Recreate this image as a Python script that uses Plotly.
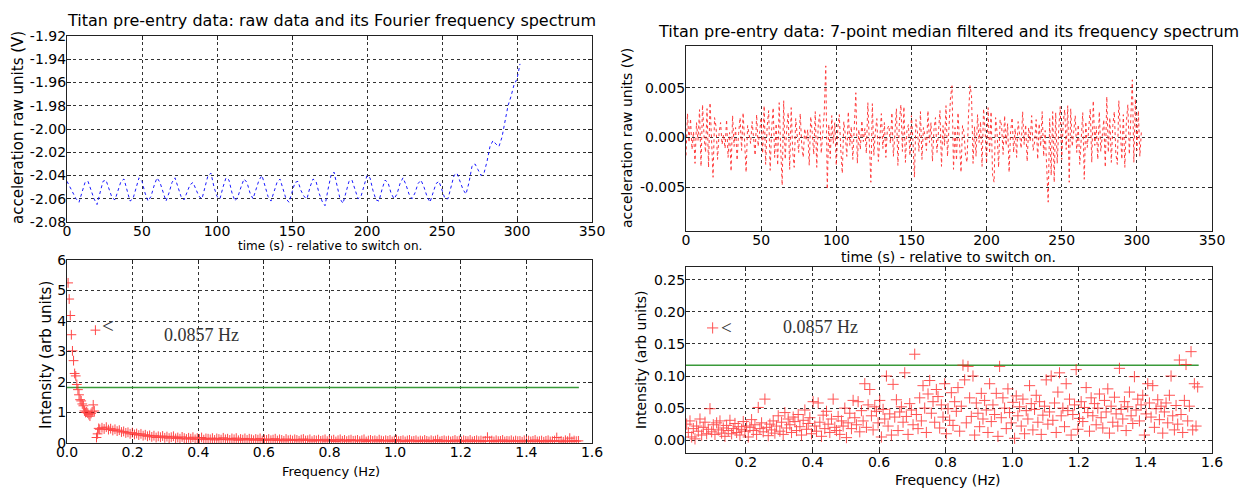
import plotly.graph_objects as go

W, H = 1244, 489

# ---------------- data ----------------
# raw accelerometer data (top-left), sampled every 2 s
raw_time_s = list(range(0, 303, 2))
raw_volts = [
    -2.045, -2.050, -2.055, -2.060, -2.063, -2.055, -2.046, -2.045, -2.052, -2.060,
    -2.065, -2.055, -2.045, -2.044, -2.052, -2.059, -2.061, -2.053, -2.045, -2.043,
    -2.052, -2.062, -2.060, -2.050, -2.042, -2.045, -2.055, -2.062, -2.058, -2.049,
    -2.042, -2.046, -2.055, -2.062, -2.055, -2.046, -2.042, -2.050, -2.058, -2.061,
    -2.054, -2.048, -2.046, -2.052, -2.058, -2.060, -2.050, -2.040, -2.038, -2.050,
    -2.058, -2.060, -2.050, -2.042, -2.044, -2.055, -2.062, -2.058, -2.050, -2.043,
    -2.046, -2.055, -2.060, -2.052, -2.044, -2.040, -2.050, -2.058, -2.062, -2.054,
    -2.046, -2.043, -2.052, -2.060, -2.063, -2.054, -2.046, -2.045, -2.053, -2.058,
    -2.060, -2.050, -2.043, -2.045, -2.055, -2.062, -2.066, -2.052, -2.040, -2.037,
    -2.050, -2.060, -2.064, -2.055, -2.045, -2.044, -2.053, -2.060, -2.058, -2.048,
    -2.040, -2.042, -2.053, -2.061, -2.062, -2.052, -2.044, -2.046, -2.055, -2.060,
    -2.056, -2.047, -2.042, -2.048, -2.056, -2.060, -2.055, -2.047, -2.044, -2.050,
    -2.058, -2.063, -2.055, -2.047, -2.045, -2.053, -2.060, -2.060, -2.050, -2.040,
    -2.038, -2.045, -2.052, -2.056, -2.046, -2.032, -2.030, -2.035, -2.040, -2.038,
    -2.028, -2.015, -2.010, -2.013, -2.015, -2.007, -1.992, -1.980, -1.972, -1.962,
    -1.957, -1.944,
]

# 7-point median filtered residual (top-right), sampled every 1 s, in mV
filt_time_s = list(range(0, 304))
filt_mv = [
    -1.8, 2.4, -0.5, 1.9, -1.2, 0.6, -2.6, 1.5, -0.3, 2.8,
    -2.9, 3.3, 0.2, -1.5, 2.9, -3.0, 3.5, -0.8, -4.0, 2.0,
    1.1, -2.2, 0.4, 1.5, -0.7, 0.3, -1.1, 1.8, -2.0, 0.5,
    -3.4, 2.2, -0.9, 1.0, -2.3, 0.4, 2.0, -1.3, 2.5, -0.4,
    -3.5, 1.2, 0.3, -0.6, 1.6, 0.2, -1.8, 2.3, -0.9, 0.6,
    2.0, -1.6, 3.2, -2.7, 1.1, 2.7, -3.3, 0.9, 3.0, -2.0,
    1.4, -2.8, 3.5, -1.0, -4.8, 3.7, -2.2, 0.8, 2.5, -3.2,
    3.0, -1.4, -3.0, 1.9, 0.4, -1.5, 2.4, -0.7, -2.0, 0.9,
    -0.3, 0.8, -2.8, 2.1, 0.5, -1.7, 2.6, -3.0, 1.3, 2.3,
    -1.6, 0.7, 2.5, 7.2, -5.2, 1.3, -2.1, 2.2, -0.6, 1.5,
    -2.8, 0.9, 2.3, -1.2, -3.6, 1.6, 0.3, -1.9, 2.6, -0.8,
    1.1, -2.2, 0.5, 4.5, -2.6, 0.8, -1.2, 1.7, -0.4, 0.9,
    -1.6, 3.5, -0.5, -4.5, 3.4, -1.8, 0.6, 1.9, -2.4, 0.3,
    2.4, -1.1, 1.5, -2.0, 0.9, 1.2, -0.6, 2.5, -1.9, 0.4,
    2.9, -2.8, 1.6, 3.3, -1.4, 3.1, -2.5, 0.7, 1.3, -1.8,
    2.2, -0.3, -4.0, 1.8, 0.6, -1.4, 2.6, -2.2, 1.0, 0.2,
    -1.3, 2.7, -0.5, 1.5, -2.4, 0.8, 2.0, -1.5, 0.4, 2.7,
    -2.9, 1.2, -0.8, 3.2, -1.9, 2.0, 4.0, 5.2, -3.2, 1.0,
    -2.3, 2.5, -0.6, -3.5, 1.2, 0.5, -1.8, -2.5, 2.4, 5.2,
    4.2, -2.6, 1.1, -1.9, 2.3, -0.5, 1.6, -2.9, 2.9, 0.8,
    -2.6, 3.0, -1.6, 2.6, -3.8, -4.5, 2.0, 0.5, -3.0, 1.8,
    1.2, -1.7, 2.2, -0.8, 1.4, -3.5, 0.6, 2.0, -1.5, 0.9,
    -2.0, 1.6, 0.3, -1.1, 2.6, -0.7, 1.3, -2.4, 1.0, -0.4,
    2.2, -1.3, -0.4, 1.8, -2.2, 1.4, -0.9, 2.6, -1.9, 0.7,
    -3.0, -6.5, 1.9, -3.8, 2.6, -4.5, 2.5, -2.6, 0.8, 3.1,
    -2.2, 1.5, 2.8, -1.2, 3.2, -4.5, 2.9, -0.9, 0.6, 2.2,
    -1.5, 1.3, -2.7, 0.5, 2.5, -4.2, 1.6, -1.0, 0.7, 2.9,
    -2.5, 3.7, -0.8, 1.1, -2.2, 2.6, -1.4, 0.4, 1.8, -3.0,
    4.1, -1.5, 2.0, -2.5, 1.2, 2.6, -1.6, -2.7, 3.7, 0.8,
    -2.2, 2.3, -3.0, 1.5, 3.3, -1.7, 2.0, 5.8, -2.5, 3.9,
    -1.3, 2.7, -1.9, 0.6,
]
filt_volts = [v / 1000.0 for v in filt_mv]

# raw-data spectrum (bottom-left): low-frequency bins then the tail
raw_freq_low = [round(0.00333 * (k + 1), 5) for k in range(30)]
raw_int_low = [
    5.25, 4.72, 4.18, 3.55, 3.02, 2.70, 2.28, 2.20, 1.92, 1.75,
    1.58, 1.42, 1.38, 1.28, 1.22, 1.05, 1.00, 1.02, 0.98, 0.93,
    0.88, 0.97, 1.02, 1.25, 1.05, 3.70, 0.18, 0.30, 0.48, 0.45,
]
raw_freq_tail = [round(0.1066 + 0.0066 * i, 5) for i in range(221)]
raw_int_tail = [
    0.50, 0.46, 0.52, 0.44, 0.47, 0.41, 0.45, 0.39, 0.42, 0.36,
    0.38, 0.33, 0.35, 0.30, 0.34, 0.28, 0.31, 0.26, 0.30, 0.24,
    0.27, 0.22, 0.25, 0.20, 0.24, 0.18, 0.22, 0.19, 0.23, 0.17,
    0.21, 0.16, 0.19, 0.22, 0.15, 0.18, 0.14, 0.20, 0.16, 0.13,
    0.17, 0.14, 0.19, 0.12, 0.16, 0.13, 0.18, 0.11, 0.15, 0.14,
    0.12, 0.16, 0.10, 0.15, 0.13, 0.11, 0.17, 0.12, 0.14, 0.10,
    0.15, 0.12, 0.16, 0.09, 0.13, 0.11, 0.15, 0.10, 0.14, 0.12,
    0.09, 0.13, 0.11, 0.15, 0.08, 0.12, 0.10, 0.13, 0.09, 0.11,
    0.14, 0.08, 0.12, 0.10, 0.07, 0.13, 0.09, 0.11, 0.08, 0.12,
    0.10, 0.07, 0.11, 0.13, 0.08, 0.09, 0.12, 0.06, 0.10, 0.08,
    0.11, 0.07, 0.09, 0.12, 0.06, 0.10, 0.08, 0.11, 0.05, 0.09,
    0.12, 0.07, 0.10, 0.06, 0.09, 0.11, 0.07, 0.08, 0.10, 0.06,
    0.09, 0.12, 0.05, 0.08, 0.10, 0.07, 0.09, 0.06, 0.11, 0.08,
    0.06, 0.09, 0.07, 0.10, 0.05, 0.08, 0.11, 0.06, 0.07, 0.09,
    0.05, 0.08, 0.10, 0.06, 0.07, 0.09, 0.05, 0.08, 0.06, 0.10,
    0.07, 0.05, 0.09, 0.06, 0.08, 0.11, 0.05, 0.07, 0.09, 0.06,
    0.08, 0.05, 0.07, 0.10, 0.06, 0.08, 0.05, 0.09, 0.07, 0.06,
    0.10, 0.05, 0.07, 0.09, 0.06, 0.08, 0.05, 0.07, 0.19, 0.06,
    0.08, 0.05, 0.09, 0.06, 0.07, 0.10, 0.05, 0.07, 0.06, 0.09,
    0.05, 0.08, 0.06, 0.07, 0.04, 0.09, 0.06, 0.08, 0.05, 0.07,
    0.10, 0.05, 0.06, 0.08, 0.04, 0.07, 0.09, 0.05, 0.06, 0.08,
    0.18, 0.05, 0.07, 0.04, 0.09, 0.06, 0.16, 0.05, 0.08, 0.06, 0.07,
]
raw_freq = raw_freq_low + raw_freq_tail
raw_int = raw_int_low + raw_int_tail

# filtered-data spectrum (bottom-right), intensity in thousandths
filt_freq = [round(0.022 + 0.005 * i, 4) for i in range(308)]
filt_int_milli = [
    25, 12, 30, 5, 18, 2, 22, 14, 33, 8, 20, 28, 10, 17, 49, 13, 24, 9, 27, 16,
    30, 11, 19, 6, 23, 15, 31, 10, 18, 26, 12, 21, 8, 17, 29, 14, 22, 5, 20, 32,
    15, 24, 9, 51, 18, 27, 13, 64, 20, 7, 25, 16, 30, 11, 22, 38, 14, 28, 9, 43,
    19, 33, 24, 12, 36, 29, 15, 40, 21, 8, 31, 47, 17, 26, 35, 10, 60, 22, 14, 58,
    28, 6, 39, 18, 45, 25, 12, 33, 64, 20, 15, 37, 9, 30, 22, 50, 4, 27, 42, 18,
    62, 35, 24, 60, 13, 46, 30, 88, 20, 55, 79, 38, 16, 52, 45, 27, 62, 5, 48, 33,
    100, 22, 41, 8, 87, 36, 63, 15, 44, 52, 28, 105, 37, 9, 57, 47, 24, 134, 40, 18,
    66, 30, 85, 50, 12, 72, 93, 42, 60, 28, 79, 68, 19, 55, 36, 88, 10, 49, 31, 74,
    23, 60, 45, 82, 14, 53, 117, 94, 27, 115, 66, 37, 100, 8, 58, 42, 21, 73, 33, 62,
    47, 12, 88, 29, 55, 40, 73, 6, 115, 35, 66, 50, 18, 80, 43, 27, 59, 3, 69, 38,
    52, 22, 64, 10, 46, 33, 85, 57, 16, 48, 70, 28, 60, 9, 39, 53, 94, 25, 44, 100,
    31, 58, 12, 75, 105, 38, 50, 21, 88, 46, 64, 8, 40, 55, 110, 17, 34, 60, 29, 51,
    82, 43, 14, 66, 38, 57, 24, 50, 72, 35, 19, 62, 44, 80, 11, 53, 28, 67, 41, 22,
    112, 48, 33, 60, 15, 52, 75, 38, 26, 99, 47, 64, 30, 55, 70, 8, 41, 88, 58, 36,
    85, 20, 49, 63, 32, 53, 11, 44, 58, 27, 70, 100, 38, 16, 54, 25, 125, 40, 12, 62,
    118, 30, 53, 138, 16, 88, 22, 83,
]
filt_int = [v / 1000.0 for v in filt_int_milli]

# threshold lines and the annotated peak
raw_threshold = 1.82
filt_threshold = 0.117
threshold_span_hz = [0.0, 1.56]
filt_threshold_span_hz = [0.02, 1.56]
peak_label = "0.0857 Hz"
filt_marker_pt = (0.10, 0.175)

# tick labels
tl_y_vals = [-2.08, -2.06, -2.04, -2.02, -2.00, -1.98, -1.96, -1.94, -1.92]
tl_y_text = ["-2.08", "-2.06", "-2.04", "-2.02", "-2.00", "-1.98", "-1.96", "-1.94", "-1.92"]
time_ticks = [0, 50, 100, 150, 200, 250, 300, 350]
tr_y_vals = [-0.005, 0.0, 0.005]
tr_y_text = ["-0.005", "0.000", "0.005"]
bl_x_ticks = [0.0, 0.2, 0.4, 0.6, 0.8, 1.0, 1.2, 1.4, 1.6]
bl_y_ticks = [0, 1, 2, 3, 4, 5, 6]
br_x_ticks = [0.2, 0.4, 0.6, 0.8, 1.0, 1.2, 1.4, 1.6]
br_y_ticks = [0.00, 0.05, 0.10, 0.15, 0.20, 0.25]

# ---------------- figure ----------------
FONT = "DejaVu Sans"
RED = "#ff1a1a"
GREEN = "#3a9a3a"

fig = go.Figure()

fig.add_trace(go.Scatter(x=raw_time_s, y=raw_volts, mode="lines",
                         line=dict(color="#1a1aff", width=1, dash="3px,3px"),
                         xaxis="x", yaxis="y", showlegend=False))
fig.add_trace(go.Scatter(x=filt_time_s, y=filt_volts, mode="lines",
                         line=dict(color=RED, width=1, dash="3px,3px"),
                         opacity=0.85, xaxis="x2", yaxis="y2", showlegend=False))
fig.add_trace(go.Scatter(x=threshold_span_hz, y=[raw_threshold, raw_threshold], mode="lines",
                         line=dict(color=GREEN, width=1.5),
                         xaxis="x3", yaxis="y3", showlegend=False))
fig.add_trace(go.Scatter(x=raw_freq, y=raw_int, mode="markers",
                         marker=dict(symbol="cross-thin", size=7,
                                     line=dict(color=RED, width=1), color=RED),
                         opacity=0.8, xaxis="x3", yaxis="y3", showlegend=False))
fig.add_trace(go.Scatter(x=filt_threshold_span_hz, y=[filt_threshold, filt_threshold], mode="lines",
                         line=dict(color=GREEN, width=1.5),
                         xaxis="x4", yaxis="y4", showlegend=False))
fig.add_trace(go.Scatter(x=filt_freq, y=filt_int, mode="markers",
                         marker=dict(symbol="cross-thin", size=8,
                                     line=dict(color=RED, width=1), color=RED),
                         opacity=0.75, xaxis="x4", yaxis="y4", showlegend=False))
fig.add_trace(go.Scatter(x=[filt_marker_pt[0]], y=[filt_marker_pt[1]], mode="markers",
                         marker=dict(symbol="cross-thin", size=8,
                                     line=dict(color=RED, width=1), color=RED),
                         opacity=0.75, xaxis="x4", yaxis="y4", showlegend=False))


def px_x(p):
    return p / W


def px_y(p):
    return 1 - p / H


X_LEFT = [px_x(67), px_x(592)]
X_RIGHT = [px_x(686), px_x(1212)]

axis_common = dict(
    showline=True, linecolor="#222222", linewidth=1.2, mirror="allticks",
    ticks="inside", ticklen=4, tickcolor="#222222", automargin=False,
    showgrid=True, gridcolor="#333333", griddash="dot", gridwidth=1,
    zeroline=False, tickfont=dict(family=FONT, size=14, color="black"),
)
xstyle = dict(axis_common, ticklabelstandoff=-4)
ystyle = dict(axis_common, ticklabelstandoff=-3)

fig.update_layout(
    width=W, height=H, margin=dict(l=0, r=0, t=0, b=0, autoexpand=False),
    paper_bgcolor="white", plot_bgcolor="white",
    xaxis=dict(domain=X_LEFT, anchor="y", range=[0, 350], tickvals=time_ticks, **xstyle),
    yaxis=dict(domain=[px_y(222), px_y(36)], anchor="x", range=[-2.08, -1.92],
               tickvals=tl_y_vals, ticktext=tl_y_text, **ystyle),
    xaxis2=dict(domain=X_RIGHT, anchor="y2", range=[0, 350], tickvals=time_ticks, **xstyle),
    yaxis2=dict(domain=[px_y(231), px_y(46)], anchor="x2", range=[-0.0094, 0.0092],
                tickvals=tr_y_vals, ticktext=tr_y_text, **ystyle),
    xaxis3=dict(domain=X_LEFT, anchor="y3", range=[0, 1.6], tickvals=bl_x_ticks,
                tickformat=".1f", **xstyle),
    yaxis3=dict(domain=[px_y(443), px_y(260)], anchor="x3", range=[0, 6],
                tickvals=bl_y_ticks, **ystyle),
    xaxis4=dict(domain=X_RIGHT, anchor="y4", range=[0.02, 1.6], tickvals=br_x_ticks,
                tickformat=".1f", **xstyle),
    yaxis4=dict(domain=[px_y(453), px_y(267)], anchor="x4", range=[-0.02, 0.27],
                tickvals=br_y_ticks, tickformat=".2f", **ystyle),
)

ann = []


def text_at(x, y, s, size=13, angle=0, family=FONT, xanchor="center", color="black"):
    ann.append(dict(x=px_x(x), y=px_y(y), xref="paper", yref="paper", text=s,
                    showarrow=False, textangle=angle, xanchor=xanchor, yanchor="middle",
                    font=dict(family=family, size=size, color=color)))


text_at(331, 20, "Titan pre-entry data: raw data and its Fourier frequency spectrum", size=16)
text_at(948, 32, "Titan pre-entry data: 7-point median filtered and its frequency spectrum", size=16)
text_at(18, 128, "acceleration raw units (V)", size=15, angle=-90)
text_at(627, 138, "acceleration raw units (V)", size=14, angle=-90)
text_at(330, 246, "time (s) - relative to switch on.", size=12)
text_at(948, 257, "time (s) - relative to switch on.", size=14)
text_at(46, 355, "Intensity (arb units)", size=15, angle=-90)
text_at(641, 360, "Intensity (arb units)", size=14, angle=-90)
text_at(331, 471, "Frequency (Hz)", size=13)
text_at(948, 480, "Frequency (Hz)", size=14)

# peak annotations in data coordinates
ann.append(dict(x=0.125, y=3.85, xref="x3", yref="y3", text="<", showarrow=False,
                font=dict(family="Liberation Serif", size=21, color="#333333")))
ann.append(dict(x=0.29, y=3.54, xref="x3", yref="y3", text=peak_label, showarrow=False,
                xanchor="left", font=dict(family="Liberation Serif", size=18, color="#333333")))
ann.append(dict(x=0.143, y=0.176, xref="x4", yref="y4", text="<", showarrow=False,
                font=dict(family="Liberation Serif", size=19, color="#333333")))
ann.append(dict(x=0.305, y=0.176, xref="x4", yref="y4", text=peak_label, showarrow=False,
                xanchor="left", font=dict(family="Liberation Serif", size=18, color="#333333")))

fig.update_layout(annotations=ann)
fig.write_html("out.html")
